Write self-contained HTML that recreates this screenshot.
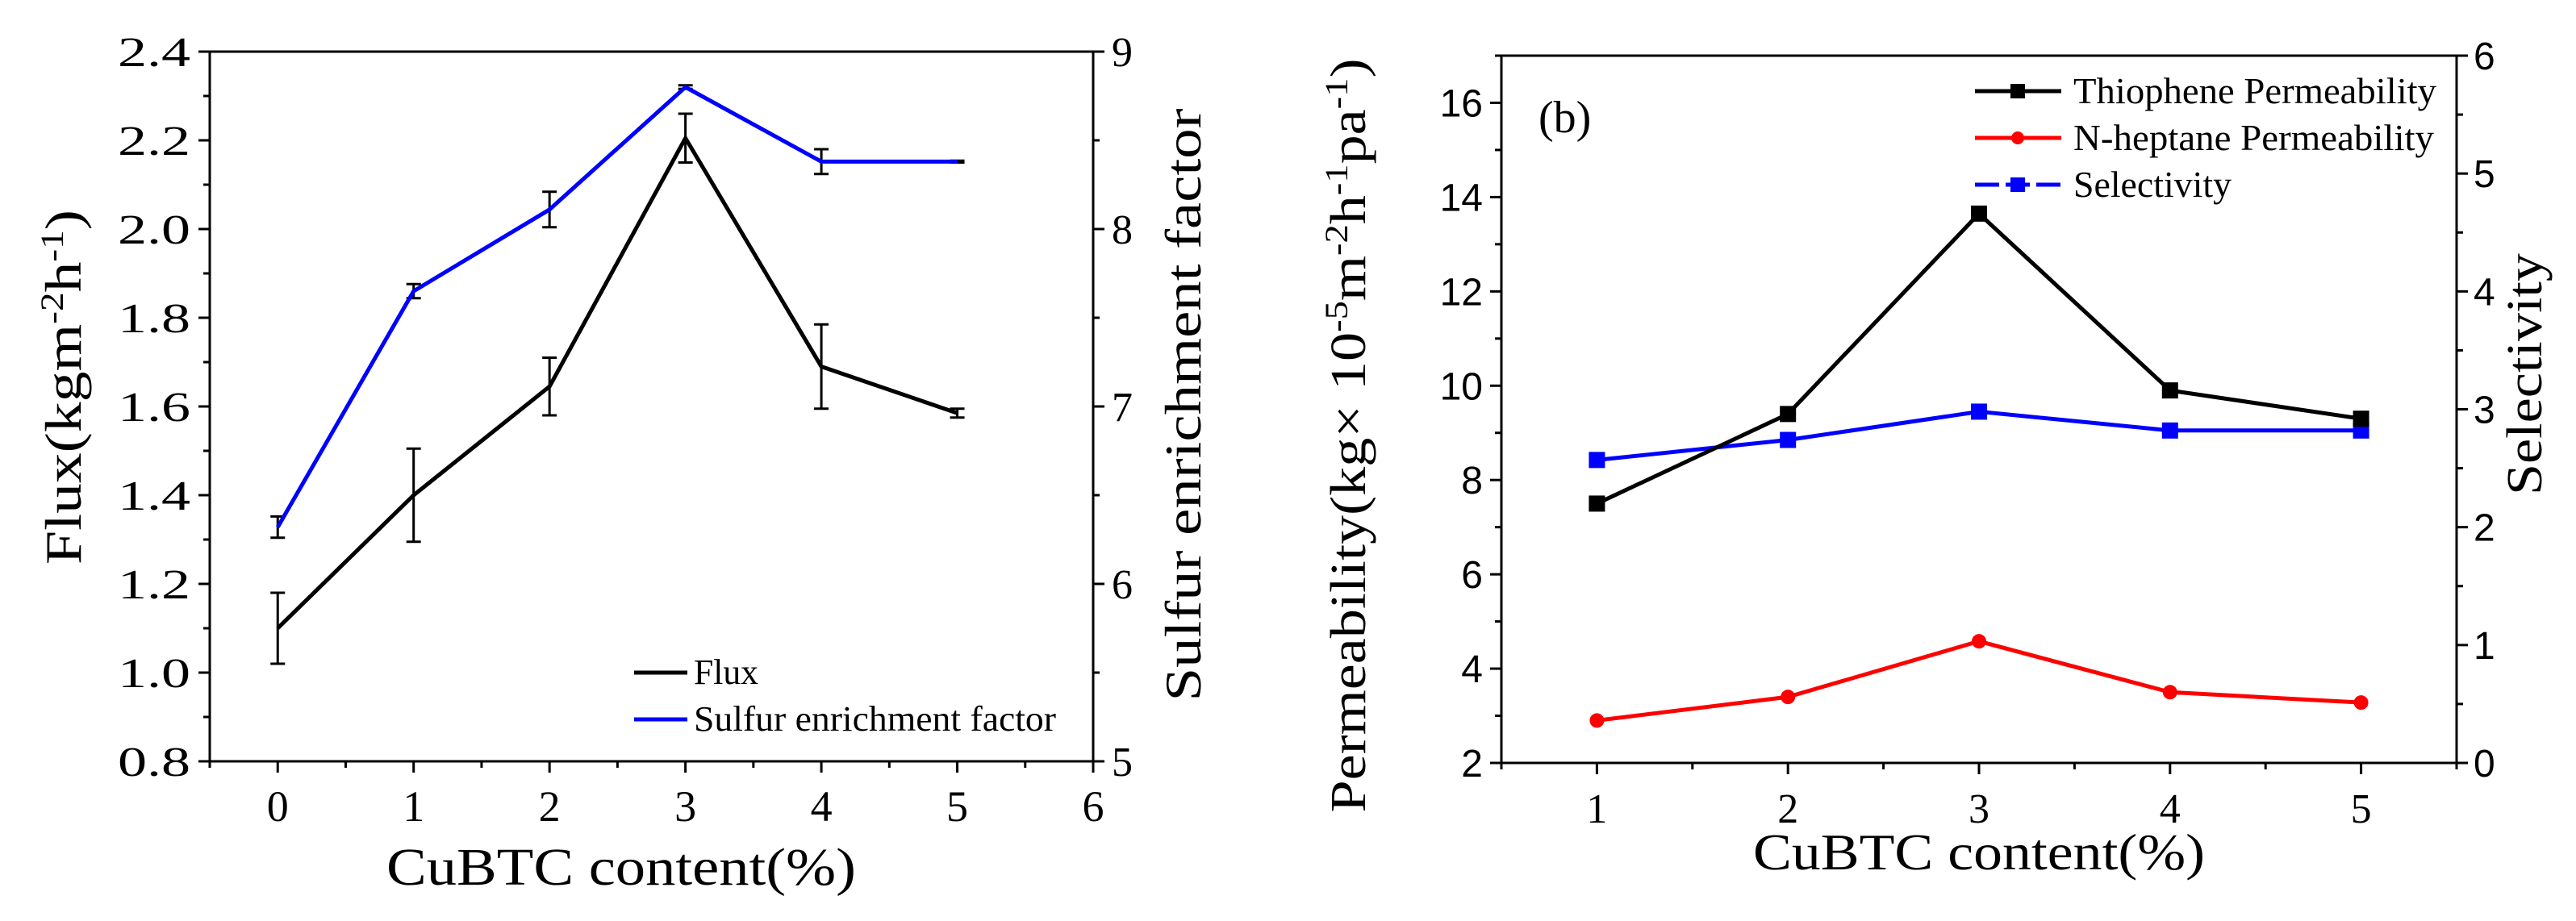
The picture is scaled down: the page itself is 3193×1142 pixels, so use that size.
<!DOCTYPE html>
<html><head><meta charset="utf-8"><style>
html,body{margin:0;padding:0;background:#fff;}
svg{display:block;font-family:"Liberation Serif",serif;}
</style></head><body>
<svg id="c" width="3193" height="1142" viewBox="0 0 3193 1142"></svg>
<script>
const xA = [0,1,2,3,4,5];
const flux = [1.10,1.40,1.645,2.205,1.69,1.585];
const fluxErr = [0.08,0.105,0.065,0.055,0.095,0.01];
const sulfur = [6.32,7.65,8.11,8.80,8.38,8.38];
const sulfurErr = [0.06,0.04,0.1,0.01,0.07,0.005];
const xB = [1,2,3,4,5];
const thio = [7.5,9.4,13.65,9.9,9.3];
const hept = [2.9,3.4,4.58,3.5,3.28];
const selec = [2.57,2.74,2.98,2.82,2.82];
const aXT = [0,1,2,3,4,5,6];
const aYL = ["0.8","1.0","1.2","1.4","1.6","1.8","2.0","2.2","2.4"];
const aYR = [5,6,7,8,9];
const bXT = [1,2,3,4,5];
const bYL = [2,4,6,8,10,12,14,16];
const bYR = [0,1,2,3,4,5,6];

const S = document.getElementById('c');
const NS = 'http://www.w3.org/2000/svg';
function mk(tag, at, txt){const e=document.createElementNS(NS,tag);for(const k in at)e.setAttribute(k,at[k]);if(txt!==undefined)e.textContent=txt;S.appendChild(e);return e;}
function lin(d0,d1,r0,r1){return v=>r0+(v-d0)/(d1-d0)*(r1-r0);}

// ---------- Chart A ----------
const ax=lin(-0.5,6,260,1355), ayl=lin(0.8,2.4,944,64), ayr=lin(5,9,944,64);
let e=mk('rect',{x:260,y:64,width:1095,height:880,fill:'none',stroke:'#000','stroke-width':3});

for(let v=-0.5; v<=6.01; v+=0.5){const X=ax(v);const major=Math.abs(v-Math.round(v))<1e-6;
 mk('line',{x1:X,y1:944,x2:X,y2:944+(major?14:8),stroke:'#000','stroke-width':3});}
aXT.forEach(v=>{e=mk('text',{x:ax(v),y:1018,'font-size':54,'text-anchor':'middle'},v);
 });
aYL.forEach((t,i)=>{const Y=ayl(+t);mk('line',{x1:246,y1:Y,x2:260,y2:Y,stroke:'#000','stroke-width':3});
 if(i<aYL.length-1)mk('line',{x1:252,y1:ayl(+t+0.1),x2:260,y2:ayl(+t+0.1),stroke:'#000','stroke-width':3});
 e=mk('text',{x:236,y:Y+18,'font-size':52,'text-anchor':'end',textLength:90,lengthAdjust:'spacingAndGlyphs'},t);
 });
aYR.forEach((v,i)=>{const Y=ayr(v);mk('line',{x1:1355,y1:Y,x2:1369,y2:Y,stroke:'#000','stroke-width':3});
 if(i<aYR.length-1)mk('line',{x1:1355,y1:ayr(v+0.5),x2:1363,y2:ayr(v+0.5),stroke:'#000','stroke-width':3});
 e=mk('text',{x:1378,y:Y+18,'font-size':52},v);
 });
function errbars(xs,ys,er,sx,sy,name){xs.forEach((x,i)=>{const X=sx(x),Y1=sy(ys[i]-er[i]),Y2=sy(ys[i]+er[i]);
 const g=mk('g',{stroke:'#000','stroke-width':3});
 [['line',{x1:X,y1:Y1,x2:X,y2:Y2}],['line',{x1:X-9,y1:Y1,x2:X+9,y2:Y1}],['line',{x1:X-9,y1:Y2,x2:X+9,y2:Y2}]].forEach(([t,a])=>{const l=document.createElementNS(NS,t);for(const k in a)l.setAttribute(k,a[k]);g.appendChild(l);});});}
errbars(xA,sulfur,sulfurErr,ax,ayr,'sulfur-error-bar');
errbars(xA,flux,fluxErr,ax,ayl,'flux-error-bar');
e=mk('polyline',{points:xA.map((x,i)=>ax(x)+','+ayr(sulfur[i])).join(' '),fill:'none',stroke:'#0000ff','stroke-width':5});

e=mk('polyline',{points:xA.map((x,i)=>ax(x)+','+ayl(flux[i])).join(' '),fill:'none',stroke:'#000','stroke-width':5});

mk('line',{x1:786,y1:834,x2:852,y2:834,stroke:'#000','stroke-width':5});
e=mk('text',{x:860,y:848,'font-size':44,textLength:80,lengthAdjust:'spacingAndGlyphs'},'Flux');

mk('line',{x1:786,y1:892,x2:852,y2:892,stroke:'#0000ff','stroke-width':5});
e=mk('text',{x:860,y:906,'font-size':44,textLength:449,lengthAdjust:'spacingAndGlyphs'},'Sulfur enrichment factor');

e=mk('text',{x:770,y:1097,'font-size':66,'text-anchor':'middle',textLength:582,lengthAdjust:'spacingAndGlyphs'},'CuBTC content(%)');

e=mk('text',{transform:'translate(100,480) rotate(-90)','font-size':64,'text-anchor':'middle',textLength:440,lengthAdjust:'spacingAndGlyphs'});
e.innerHTML='Flux(kgm<tspan dy="-22" font-size="40">-2</tspan><tspan dy="22">h</tspan><tspan dy="-22" font-size="40">-1</tspan><tspan dy="22">)</tspan>';

e=mk('text',{transform:'translate(1488,502) rotate(-90)','font-size':64,'text-anchor':'middle',textLength:735,lengthAdjust:'spacingAndGlyphs'},'Sulfur enrichment factor');


// ---------- Chart B ----------
const bx=lin(0.5,5.5,1861,3045), byl=lin(2,17,946,69), byr=lin(0,6,946,69);
e=mk('rect',{x:1861,y:69,width:1184,height:877,fill:'none',stroke:'#000','stroke-width':3});

for(let v=0.5; v<=5.51; v+=0.5){const X=bx(v);const major=Math.abs(v-Math.round(v))<1e-6;
 mk('line',{x1:X,y1:946,x2:X,y2:946+(major?14:8),stroke:'#000','stroke-width':3});}
bXT.forEach(v=>{e=mk('text',{x:bx(v),y:1020,'font-size':52,'text-anchor':'middle'},v);
 });
bYL.forEach(v=>{const Y=byl(v);mk('line',{x1:1847,y1:Y,x2:1861,y2:Y,stroke:'#000','stroke-width':3});
 mk('line',{x1:1853,y1:byl(v+1),x2:1861,y2:byl(v+1),stroke:'#000','stroke-width':3});
 e=mk('text',{x:1838,y:Y+17,'font-size':48,'text-anchor':'end','font-family':'Liberation Sans, sans-serif'},v);
 });
bYR.forEach((v,i)=>{const Y=byr(v);mk('line',{x1:3045,y1:Y,x2:3059,y2:Y,stroke:'#000','stroke-width':3});
 if(i<bYR.length-1)mk('line',{x1:3045,y1:byr(v+0.5),x2:3053,y2:byr(v+0.5),stroke:'#000','stroke-width':3});
 e=mk('text',{x:3066,y:Y+17,'font-size':48,'font-family':'Liberation Sans, sans-serif'},v);
 });
function series(ys,sy,color,marker,dash,name){
 e=mk('polyline',{points:xB.map((x,i)=>bx(x)+','+sy(ys[i])).join(' '),fill:'none',stroke:color,'stroke-width':5});
 if(dash)e.setAttribute('stroke-dasharray',dash);
 
 xB.forEach((x,i)=>{const X=bx(x),Y=sy(ys[i]);
  e= marker==='c'?mk('circle',{cx:X,cy:Y,r:9,fill:color}):mk('rect',{x:X-10,y:Y-10,width:20,height:20,fill:color});
  });}
series(selec,byr,'#0000ff','s',null,'selectivity');
series(thio,byl,'#000','s',null,'thiophene');
series(hept,byl,'#ff0000','c',null,'heptane');
e=mk('text',{x:1907,y:164,'font-size':56},'(b)');

const leg=[['#000','s','Thiophene Permeability',113,450],['#ff0000','c','N-heptane Permeability',171,447],['#0000ff','s','Selectivity',229,196]];
leg.forEach(([c,m,t,y,w])=>{mk('line',{x1:2448,y1:y,x2:2555,y2:y,stroke:c,'stroke-width':5,'stroke-dasharray':c==='#0000ff'?'30 8':'none'});
 if(m==='c')mk('circle',{cx:2501,cy:y,r:8,fill:c});else mk('rect',{x:2492,y:y-9,width:18,height:18,fill:c});
 e=mk('text',{x:2570,y:y+15,'font-size':46,textLength:w,lengthAdjust:'spacingAndGlyphs'},t);
 });
e=mk('text',{x:2453,y:1078,'font-size':64,'text-anchor':'middle',textLength:560,lengthAdjust:'spacingAndGlyphs'},'CuBTC content(%)');

e=mk('text',{transform:'translate(1692,540) rotate(-90)','font-size':62,'text-anchor':'middle',textLength:935,lengthAdjust:'spacingAndGlyphs'});
e.innerHTML='Permeability(kg× 10<tspan dy="-22" font-size="40">-5</tspan><tspan dy="22">m</tspan><tspan dy="-22" font-size="40">-2</tspan><tspan dy="22">h</tspan><tspan dy="-22" font-size="40">-1</tspan><tspan dy="22">pa</tspan><tspan dy="-22" font-size="40">-1</tspan><tspan dy="22">)</tspan>';

e=mk('text',{transform:'translate(3150,464) rotate(-90)','font-size':62,'text-anchor':'middle',textLength:300,lengthAdjust:'spacingAndGlyphs'},'Selectivity');

</script>
</body></html>
